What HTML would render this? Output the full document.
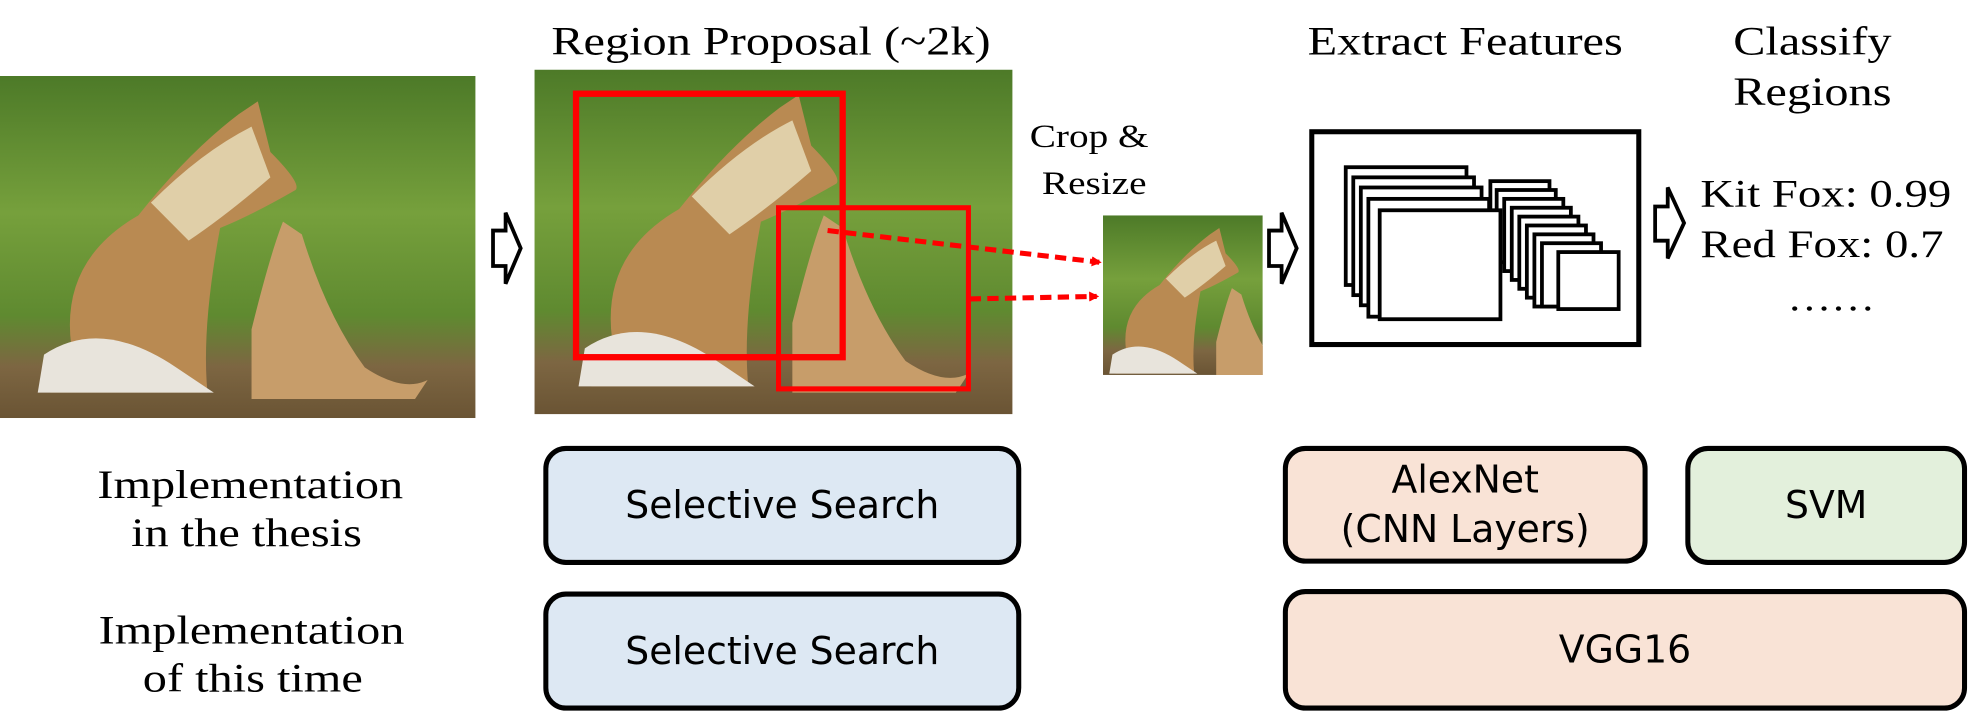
<!DOCTYPE html>
<html><head><meta charset="utf-8"><style>
html,body{margin:0;padding:0;background:#fff;width:1972px;height:722px;overflow:hidden}
#w{position:absolute;left:0;top:0;width:1568px;height:570px;transform-origin:0 0;transform:scale(1.2577,1.2667)}
.t{position:absolute;font-family:"Liberation Serif",serif;font-size:32px;color:#000;white-space:nowrap;transform:translateX(-50%) scaleX(1.2);line-height:1}
.l{position:absolute;font-family:"Liberation Serif",serif;font-size:31px;color:#000;white-space:nowrap;transform-origin:0 0;transform:scaleX(1.2);line-height:1}
.b{position:absolute;box-sizing:border-box;border:4px solid #000;border-radius:18px;font-family:"DejaVu Sans","Liberation Sans",sans-serif;font-size:30px;display:flex;align-items:center;justify-content:center;text-align:center;line-height:1.3}
</style></head><body><div id="w">
<svg width="1568" height="570" style="position:absolute;left:0;top:0">
<defs>
<linearGradient id="g" x1="0" y1="0" x2="0" y2="1"><stop offset="0" stop-color="#4d7a28"/><stop offset=".4" stop-color="#76a03c"/><stop offset=".7" stop-color="#5f8a30"/><stop offset=".85" stop-color="#7d6642"/><stop offset="1" stop-color="#6a5434"/></linearGradient>
<g id="fox">
<path d="M60,230 Q40,150 110,110 Q150,60 190,30 L205,20 L215,60 Q240,85 235,90 Q200,110 175,120 Q160,200 165,250 L40,250 Z" fill="#b98a52"/>
<path d="M120,100 Q160,60 200,40 L215,80 Q180,110 150,130 Z" fill="#e0cfa8"/>
<path d="M200,200 Q215,140 225,115 L240,125 Q260,190 290,230 Q320,250 340,240 L330,255 L200,255 Z" fill="#c79d6a"/>
<path d="M35,220 Q80,190 140,230 L170,250 L30,250 Z" fill="#e8e4dc"/>
</g>
<marker id="ah" markerWidth="8" markerHeight="8" refX="6" refY="4" orient="auto" markerUnits="userSpaceOnUse"><path d="M0,0 L8,4 L0,8 Z" fill="#f00"/></marker>
</defs>
<rect x="0" y="60" width="378" height="270" fill="url(#g)"/>
<use href="#fox" transform="translate(0,60)"/>
<svg x="425" y="55" width="380" height="272" overflow="hidden"><rect width="380" height="272" fill="url(#g)"/><use href="#fox" transform="translate(5,0)"/></svg>
<svg x="877" y="170" width="127" height="126" overflow="hidden"><rect width="127" height="126" fill="url(#g)"/><use href="#fox" transform="translate(-10,0) scale(0.5,0.5)"/></svg>
<rect x="458" y="74" width="212" height="208" fill="none" stroke="#f00" stroke-width="5"/>
<rect x="619" y="164" width="151" height="143" fill="none" stroke="#f00" stroke-width="4"/>
<line x1="658" y1="182" x2="874" y2="207" stroke="#f00" stroke-width="4" stroke-dasharray="9,5" marker-end="url(#ah)"/>
<line x1="771" y1="236" x2="872" y2="234" stroke="#f00" stroke-width="4" stroke-dasharray="9,5" marker-end="url(#ah)"/>
<g fill="#fff" stroke="#000" stroke-width="3">
<path d="M392,182 L402,182 L402,168 L414,196 L402,224 L402,210 L392,210 Z"/>
<path d="M1009,182 L1019,182 L1019,168 L1031,196 L1019,224 L1019,210 L1009,210 Z"/>
<path d="M1316,163 L1326,163 L1326,148 L1339,176 L1326,204 L1326,190 L1316,190 Z"/>
</g>
<rect x="1043" y="104" width="260" height="168" fill="none" stroke="#000" stroke-width="4"/>
<g fill="#fff" stroke="#000" stroke-width="3">
<rect x="1185" y="143" width="47" height="57"/><rect x="1190" y="150" width="47" height="57"/><rect x="1196" y="157" width="47" height="57"/><rect x="1202" y="164" width="47" height="57"/><rect x="1208" y="171" width="47" height="57"/><rect x="1214" y="178" width="47" height="57"/><rect x="1220" y="185" width="47" height="57"/><rect x="1226" y="192" width="47" height="50"/>
<rect x="1070" y="132" width="96" height="93"/><rect x="1076" y="140" width="96" height="93"/><rect x="1082" y="148" width="96" height="93"/><rect x="1088" y="157" width="96" height="93"/><rect x="1097" y="166" width="96" height="86"/>
<rect x="1239" y="199" width="48" height="45"/>
</g>
</svg>
<div class="t" style="left:613px;top:16px">Region Proposal (~2k)</div>
<div class="t" style="left:1165px;top:16px">Extract Features</div>
<div class="t" style="left:1441px;top:16px">Classify</div>
<div class="t" style="left:1441px;top:56px">Regions</div>
<div class="t" style="left:866px;top:95px;font-size:26px">Crop &amp;</div>
<div class="t" style="left:870px;top:132px;font-size:26px">Resize</div>
<div class="l" style="left:1352px;top:137px">Kit Fox: 0.99</div>
<div class="l" style="left:1352px;top:177px">Red Fox: 0.7</div>
<div class="t" style="left:1456px;top:222px;font-size:29px">……</div>
<div class="t" style="left:199px;top:366px">Implementation</div>
<div class="t" style="left:196px;top:404px">in the thesis</div>
<div class="t" style="left:200px;top:481px">Implementation</div>
<div class="t" style="left:201px;top:519px">of this time</div>
<div class="b" style="left:432px;top:352px;width:380px;height:94px;background:#dde8f3">Selective Search</div>
<div class="b" style="left:432px;top:467px;width:380px;height:94px;background:#dde8f3">Selective Search</div>
<div class="b" style="left:1020px;top:352px;width:290px;height:93px;background:#f9e3d6">AlexNet<br>(CNN Layers)</div>
<div class="b" style="left:1340px;top:352px;width:224px;height:94px;background:#e3f0dc">SVM</div>
<div class="b" style="left:1020px;top:465px;width:544px;height:96px;background:#f9e3d6">VGG16</div>
</div></body></html>
